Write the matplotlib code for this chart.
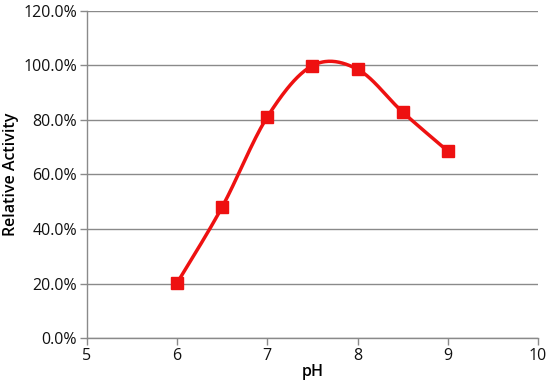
import matplotlib
matplotlib.use("Agg")
import matplotlib.pyplot as plt
from matplotlib.ticker import FuncFormatter
import numpy as np

ph = [6, 6.5, 7, 7.5, 8, 8.5, 9]
activity = [20.2, 48.1, 81.1, 99.9, 98.6, 82.9, 68.6]

RED = "#EE1111"
GRID = "#8a8a8a"


def smooth(x, y, n=40):
    # Catmull-Rom style bezier smoothing (like spreadsheet "smoothed line")
    x = np.asarray(x, float)
    y = np.asarray(y, float)
    px = np.concatenate([[x[0]], x, [x[-1]]])
    py = np.concatenate([[y[0]], y, [y[-1]]])
    xs, ys = [], []
    t = np.linspace(0, 1, n)
    for i in range(1, len(px) - 2):
        p0 = np.array([px[i], py[i]])
        p3 = np.array([px[i + 1], py[i + 1]])
        p1 = p0 + (np.array([px[i + 1], py[i + 1]]) - np.array([px[i - 1], py[i - 1]])) / 6
        p2 = p3 - (np.array([px[i + 2], py[i + 2]]) - np.array([px[i], py[i]])) / 6
        b = ((1 - t) ** 3)[:, None] * p0 + (3 * (1 - t) ** 2 * t)[:, None] * p1 \
            + (3 * (1 - t) * t ** 2)[:, None] * p2 + (t ** 3)[:, None] * p3
        xs.extend(b[:, 0])
        ys.extend(b[:, 1])
    return xs, ys


plt.rcParams["font.family"] = ["Open Sans", "DejaVu Sans"]

fig = plt.figure(figsize=(5.5, 3.89), dpi=100)
ax = fig.add_axes([0.158, 0.131, 0.820, 0.841])

sx, sy = smooth(ph, activity)
ax.plot(sx, sy, color=RED, lw=2.5, zorder=3)
ax.plot(ph, activity, ls="none", marker="s", ms=9, color=RED, zorder=4)

ax.set_xlim(5, 10)
ax.set_ylim(0, 120)
ax.set_xticks([5, 6, 7, 8, 9, 10])
ax.set_yticks(np.arange(0, 121, 20))
ax.yaxis.set_major_formatter(FuncFormatter(lambda v, p: f"{v:.1f}%"))
ax.grid(axis="y", color=GRID, lw=1)
ax.set_axisbelow(True)

for s in ["top", "right"]:
    ax.spines[s].set_visible(False)
for s in ["left", "bottom"]:
    ax.spines[s].set_color(GRID)
    ax.spines[s].set_linewidth(1)
ax.tick_params(colors=GRID, labelcolor="#111111", labelsize=11.5, length=5, width=1, pad=2)

ax.set_xlabel("pH", fontsize=11.5, fontweight="semibold", labelpad=0)
ax.set_ylabel("Relative Activity", fontsize=11.5, fontweight="semibold", labelpad=3)

fig.savefig("out.png", dpi=100)
